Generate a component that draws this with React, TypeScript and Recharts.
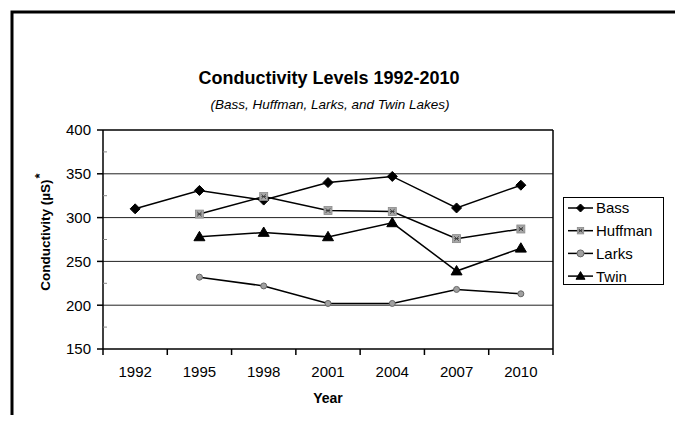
import React from 'react';
import { LineChart, Line, XAxis, YAxis, ReferenceLine, Legend } from 'recharts';

const years = [1992, 1995, 1998, 2001, 2004, 2007, 2010];
const bass = [310, 331, 320, 340, 347, 311, 337];
const huffman: (number | null)[] = [null, 304, 324, 308, 307, 276, 287];
const larks: (number | null)[] = [null, 232, 222, 202, 202, 218, 213];
const twin: (number | null)[] = [null, 278, 283, 278, 294, 239, 265];

const boundaryTicks = [1990.5, 1993.5, 1996.5, 1999.5, 2002.5, 2005.5, 2008.5, 2011.5];
const yMajorTicks = [150, 200, 250, 300, 350, 400];
const yMinorTicks = [175, 225, 275, 325, 375];
const gridValues = [200, 250, 300, 350];

const data = years.map((year, i) => ({
  year,
  Bass: bass[i],
  Huffman: huffman[i],
  Larks: larks[i],
  Twin: twin[i],
}));

const FONT = '"Liberation Sans", Arial, sans-serif';

const Diamond = ({ cx, cy, s = 5 }: any) =>
  cx == null || cy == null ? null : (
    <polygon points={`${cx},${cy - s} ${cx + s},${cy} ${cx},${cy + s} ${cx - s},${cy}`} fill="#000" stroke="#000" />
  );
const SquareX = ({ cx, cy, s = 4 }: any) =>
  cx == null || cy == null ? null : (
    <g>
      <rect x={cx - s} y={cy - s} width={2 * s} height={2 * s} fill="#a8a8a8" stroke="#8a8a8a" strokeWidth={0.8} />
      <line x1={cx - s * 0.55} y1={cy - s * 0.55} x2={cx + s * 0.55} y2={cy + s * 0.55} stroke="#333" strokeWidth={0.9} />
      <line x1={cx - s * 0.55} y1={cy + s * 0.55} x2={cx + s * 0.55} y2={cy - s * 0.55} stroke="#333" strokeWidth={0.9} />
      <line x1={cx - s * 0.55} y1={cy} x2={cx + s * 0.55} y2={cy} stroke="#333" strokeWidth={0.9} />
    </g>
  );
const Circ = ({ cx, cy, r = 4.8 }: any) =>
  cx == null || cy == null ? null : <circle cx={cx} cy={cy} r={r} fill="#a0a0a0" stroke="#666" strokeWidth={1} />;
const Tri = ({ cx, cy, s = 5.5 }: any) =>
  cx == null || cy == null ? null : (
    <polygon points={`${cx},${cy - s} ${cx + s},${cy + s * 0.7} ${cx - s},${cy + s * 0.7}`} fill="#000" stroke="#000" />
  );

const markers: Record<string, (p: any) => any> = {
  Bass: (p) => <Diamond {...p} />,
  Huffman: (p) => <SquareX {...p} />,
  Larks: (p) => <Circ {...p} />,
  Twin: (p) => <Tri {...p} />,
};
const legendMarkers: Record<string, (p: any) => any> = {
  Bass: (p) => <Diamond {...p} s={4} />,
  Huffman: (p) => <SquareX {...p} s={3.2} />,
  Larks: (p) => <Circ {...p} r={3.5} />,
  Twin: (p) => <Tri {...p} s={4.5} />,
};

const XTick = (props: any) => {
  const { x, y, payload } = props;
  const v = payload.value;
  if (years.includes(v)) {
    return (
      <text x={x} y={y + 28} textAnchor="middle" fontFamily={FONT} fontSize={15} fill="#000">
        {v}
      </text>
    );
  }
  return <line x1={x} x2={x} y1={y} y2={y + 6} stroke="#000" strokeWidth={1.5} />;
};

const YTick = (props: any) => {
  const { x, y, payload } = props;
  const v = payload.value;
  if (yMajorTicks.includes(v)) {
    return (
      <g>
        <line x1={x - 6} x2={x} y1={y} y2={y} stroke="#000" strokeWidth={1.5} />
        <text x={x - 12} y={y} dy="0.36em" textAnchor="end" fontFamily={FONT} fontSize={15} fill="#000">
          {v}
        </text>
      </g>
    );
  }
  return <line x1={x} x2={x + 4} y1={y} y2={y} stroke="#888" strokeWidth={1} />;
};

const LegendBox = (props: any) => {
  const items = (props.payload || []) as any[];
  return (
    <div style={{ width: 101, height: 88, border: '1px solid #000', boxSizing: 'border-box', background: '#fff' }}>
      <svg width={99} height={86} style={{ display: 'block' }}>
        {items.map((it, i) => {
          const cy = 10 + i * 22.7;
          const key = String(it.dataKey ?? it.value);
          const M = legendMarkers[key];
          return (
            <g key={key}>
              <line x1={4} x2={29} y1={cy} y2={cy} stroke="#000" strokeWidth={1.5} />
              {M ? M({ cx: 16.5, cy }) : null}
              <text x={32} y={cy} dy="0.36em" fontFamily={FONT} fontSize={15} fill="#000">
                {it.value}
              </text>
            </g>
          );
        })}
      </svg>
    </div>
  );
};

const series = ['Bass', 'Huffman', 'Larks', 'Twin'];

export default function App() {
  return (
    <div style={{ position: 'relative', width: 683, height: 423, margin: -8, background: '#fff', overflow: 'hidden' }}>
      <LineChart width={683} height={423} data={data} margin={{ top: 130, right: 29, bottom: 73, left: 102 }}>
        <XAxis
          dataKey="year"
          type="number"
          domain={[1990.5, 2011.5]}
          ticks={[...boundaryTicks, ...years].sort((a, b) => a - b)}
          interval={0}
          tick={<XTick />}
          tickLine={false}
          tickSize={0}
          tickMargin={0}
          height={1}
          axisLine={{ stroke: '#000', strokeWidth: 1.5 }}
        />
        <YAxis
          type="number"
          domain={[150, 400]}
          ticks={[...yMajorTicks, ...yMinorTicks].sort((a, b) => a - b)}
          interval={0}
          tick={<YTick />}
          tickLine={false}
          tickSize={0}
          tickMargin={0}
          width={1}
          axisLine={{ stroke: '#000', strokeWidth: 1.5 }}
        />
        {gridValues.map((g) => (
          <ReferenceLine key={g} y={g} stroke="#222" strokeWidth={1} />
        ))}
        <ReferenceLine y={400} stroke="#000" strokeWidth={1.5} />
        <ReferenceLine x={2011.5} stroke="#000" strokeWidth={1.5} />
        {series.map((s) => (
          <Line
            key={s}
            dataKey={s}
            name={s}
            type="linear"
            stroke="#000"
            strokeWidth={1.5}
            dot={markers[s]}
            activeDot={false}
            isAnimationActive={false}
          />
        ))}
        <Legend
          layout="horizontal"
          verticalAlign="middle"
          align="right"
          content={<LegendBox />}
          wrapperStyle={{ left: 563, top: 197, width: 101, height: 88, right: 'auto', bottom: 'auto' }}
        />
      </LineChart>
      <svg width={683} height={423} style={{ position: 'absolute', left: 0, top: 0, pointerEvents: 'none' }}>
        <path d="M12,423 V12 H683" fill="none" stroke="#000" strokeWidth={3} />
        <text x={329} y={84} textAnchor="middle" fontFamily={FONT} fontWeight="bold" fontSize={18} fill="#000">
          Conductivity Levels 1992-2010
        </text>
        <text x={330} y={109} textAnchor="middle" fontFamily={FONT} fontStyle="italic" fontSize={13.5} fill="#000">
          (Bass, Huffman, Larks, and Twin Lakes)
        </text>
        <text
          transform="translate(50,232) rotate(-90)"
          textAnchor="middle"
          fontFamily={FONT}
          fontWeight="bold"
          fontSize={13.5}
          fill="#000"
        >
          Conductivity (µS)
          <tspan dx={1} dy={-6} fontSize={13}>*</tspan>
        </text>
        <text x={328} y={403} textAnchor="middle" fontFamily={FONT} fontWeight="bold" fontSize={14} fill="#000">
          Year
        </text>
      </svg>
    </div>
  );
}
